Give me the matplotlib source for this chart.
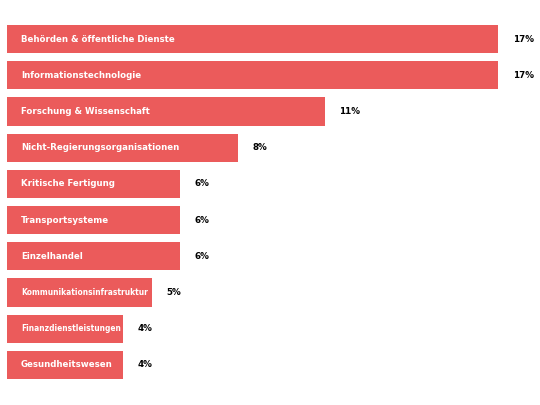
import matplotlib
matplotlib.use('Agg')
import matplotlib.pyplot as plt

# данные графика
sectors = ['Behörden & öffentliche Dienste', 'Informationstechnologie',
           'Forschung & Wissenschaft', 'Nicht-Regierungsorganisationen',
           'Kritische Fertigung', 'Transportsysteme', 'Einzelhandel',
           'Kommunikationsinfrastruktur', 'Finanzdienstleistungen',
           'Gesundheitswesen']
shares = [17, 17, 11, 8, 6, 6, 6, 5, 4, 4]
label_sizes = [6.2, 6.2, 6.2, 6.2, 6.2, 6.2, 6.2, 5.45, 5.45, 6.2]

fig = plt.figure(figsize=(5.4, 4.05), dpi=100)
ax = fig.add_axes([7 / 540, 1 - 383 / 405, 533 / 540, 362 / 405])

y = range(len(sectors))
ax.barh(y, shares, height=0.78, color='#eb5b5b')
for i, (name, val) in enumerate(zip(sectors, shares)):
    ax.text(0.48, i, name, color='white', fontweight='bold',
            fontsize=label_sizes[i], va='center', ha='left')
    ax.text(val + 0.5, i, f'{val}%', color='black', fontweight='bold',
            fontsize=6.3, va='center', ha='left')

ax.set_xlim(0, 18.44)
ax.set_ylim(len(sectors) - 0.5, -0.5)
ax.axis('off')

fig.savefig('out.png', dpi=100)
